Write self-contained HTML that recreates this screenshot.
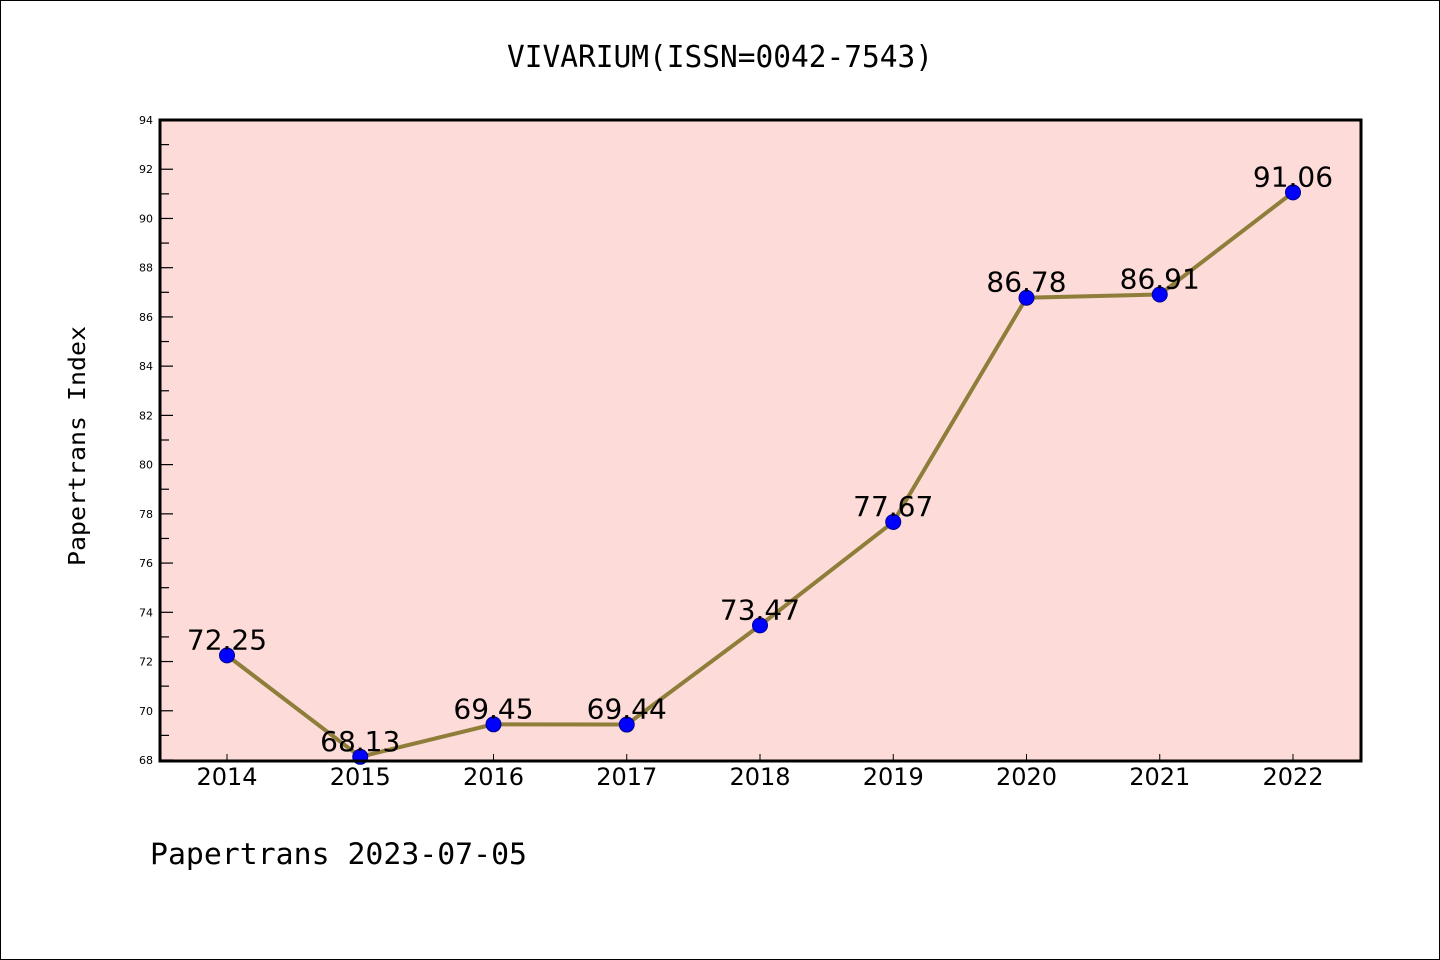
<!DOCTYPE html>
<html><head><meta charset="utf-8"><style>
html,body{margin:0;padding:0;background:#fff}
svg{display:block}
.sans{font-family:"DejaVu Sans","Liberation Sans",sans-serif}
.mono{font-family:"DejaVu Sans Mono","Liberation Mono",monospace}
</style></head><body>
<svg id="chart" width="1440" height="960" viewBox="0 0 1440 960">
<rect x="0.5" y="0.5" width="1439" height="959" fill="#fff" stroke="#000"/>
<text class="mono" x="507" y="67" font-size="30" textLength="426" lengthAdjust="spacingAndGlyphs">VIVARIUM(ISSN=0042-7543)</text>
<rect x="160" y="120" width="1201" height="641" fill="#fddbd8"/>
<g id="yticks"></g><g id="xticks"></g>
<polyline id="line" fill="none" stroke="#8f7d3a" stroke-width="4"/>
<g id="points"></g><g id="labels"></g>
<rect x="160" y="120" width="1201" height="641" fill="none" stroke="#000" stroke-width="3"/>
<text class="mono" transform="translate(85,566) rotate(-90)" font-size="23" textLength="240" lengthAdjust="spacingAndGlyphs">Papertrans Index</text>
<text class="mono" x="150" y="864" font-size="29" textLength="377" lengthAdjust="spacingAndGlyphs">Papertrans 2023-07-05</text>
</svg>
<script>
const years=["2014","2015","2016","2017","2018","2019","2020","2021","2022"];
const values=[72.25,68.13,69.45,69.44,73.47,77.67,86.78,86.91,91.06];
const yTickLabels=[68,70,72,74,76,78,80,82,84,86,88,90,92,94];
const NS="http://www.w3.org/2000/svg";
const yMin=68,yMax=94,plotTop=120,plotBot=760;
function ys(v){return plotBot-(v-yMin)/(yMax-yMin)*(plotBot-plotTop);}
function xs(i){return 227+i*(1293-227)/(years.length-1);}
function mk(t,a,p){const e=document.createElementNS(NS,t);for(const k in a)e.setAttribute(k,a[k]);p.appendChild(e);return e;}
const yt=document.getElementById('yticks');
for(let v=yMin;v<=yMax;v++){
  const major=(v%2===0);
  const l=mk('line',{x1:160,x2:major?173:169,y1:ys(v),y2:ys(v),stroke:'#000','stroke-width':1.2},yt);
  
  
}
yTickLabels.forEach(v=>{
  const t=mk('text',{x:153,y:ys(v)+4,'text-anchor':'end','font-size':11,'class':'sans'},yt);
  t.textContent=v;
  
  
});
const xt=document.getElementById('xticks');
years.forEach((y,i)=>{
  const l=mk('line',{x1:xs(i),x2:xs(i),y1:754,y2:760,stroke:'#000'},xt);
  
  
  const t=mk('text',{x:xs(i),y:785,'text-anchor':'middle','font-size':24,'class':'sans'},xt);
  t.textContent=y;
  
  
});
document.getElementById('line').setAttribute('points',values.map((v,i)=>xs(i)+','+ys(v)).join(' '));
const pg=document.getElementById('points'),lg=document.getElementById('labels');
values.forEach((v,i)=>{
  const c=mk('circle',{cx:xs(i),cy:ys(v),r:7.5,fill:'#0000ff',stroke:'#00008b','stroke-width':1},pg);
  
  
  const t=mk('text',{x:xs(i),y:ys(v)-6,'text-anchor':'middle','font-size':28,'class':'sans'},lg);
  t.textContent=v.toFixed(2);
  
  
});
</script>
</body></html>
